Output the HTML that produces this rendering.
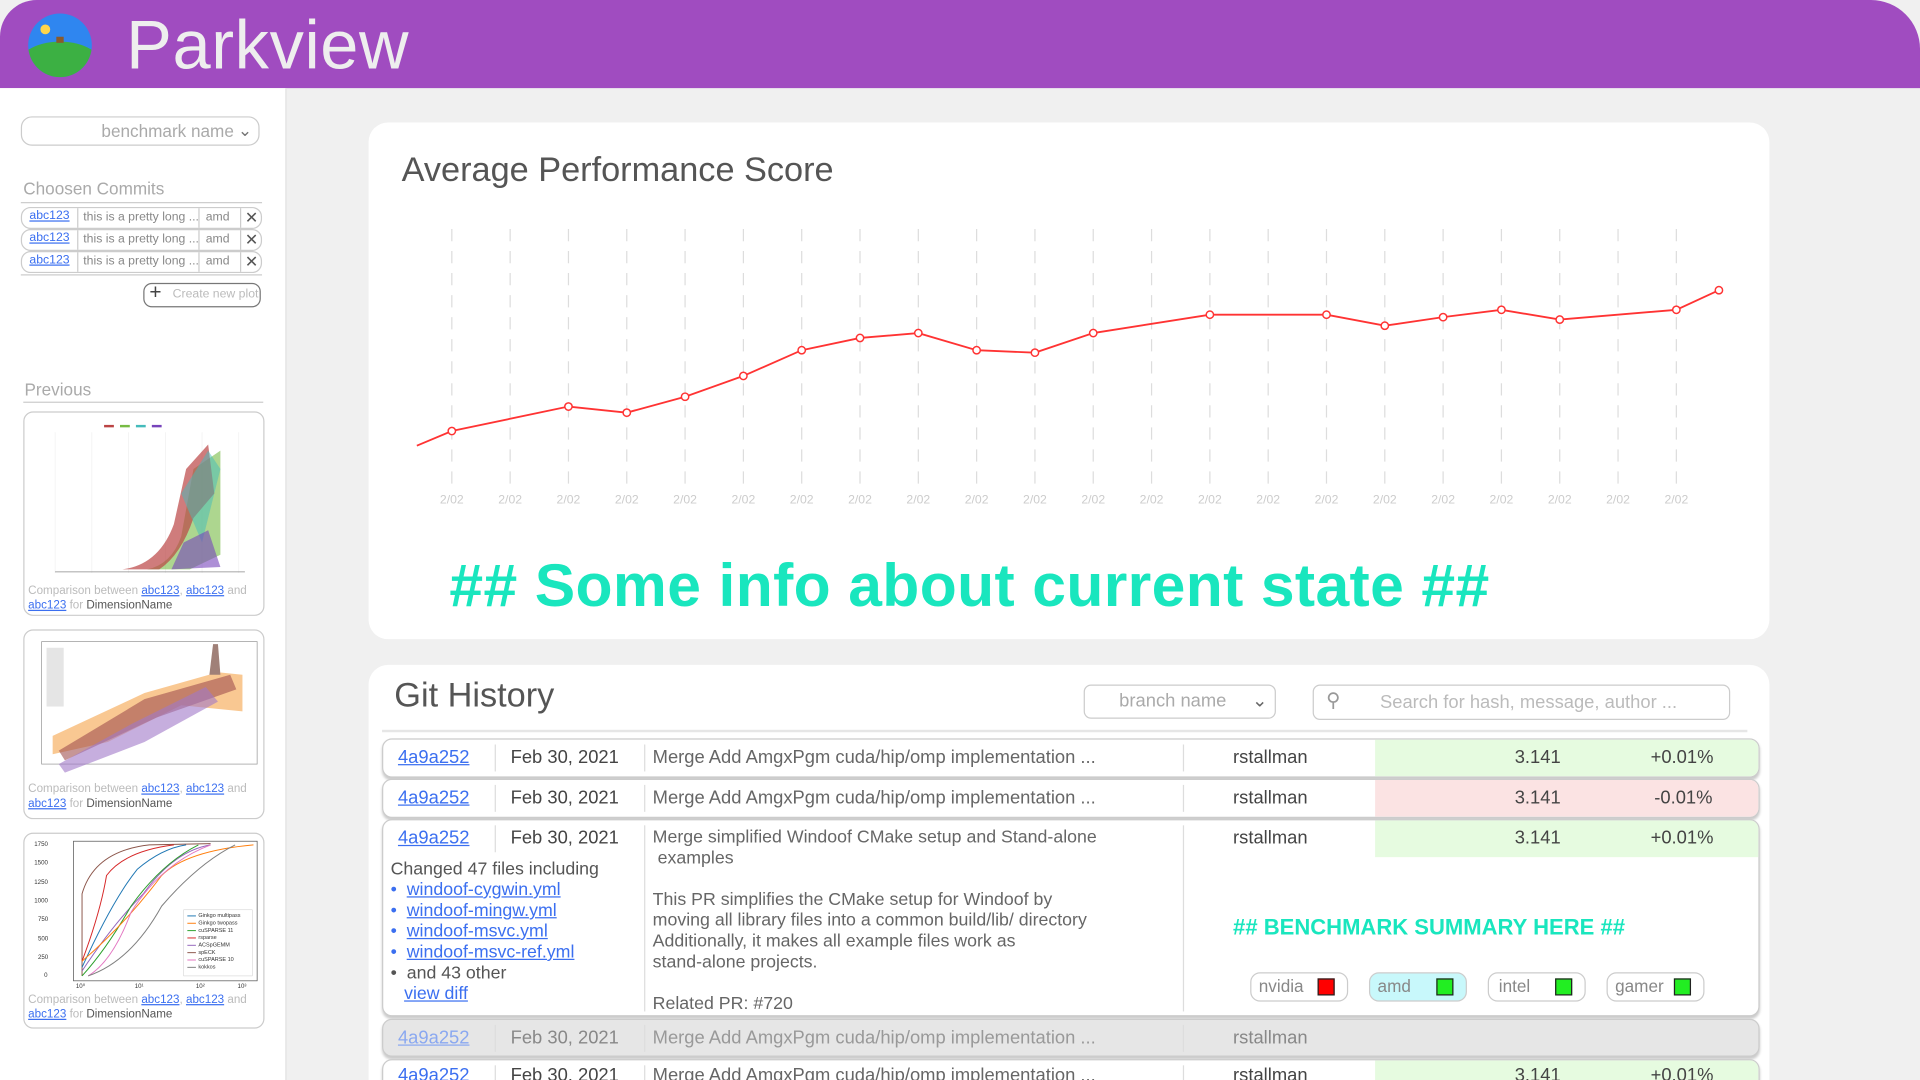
<!DOCTYPE html>
<html><head><meta charset="utf-8">
<style>
html,body{margin:0;padding:0;width:1920px;height:1080px;overflow:hidden;background:#f0f0f0;}
#wrap{position:absolute;left:0;top:0;width:1568px;height:882px;transform:scale(1.22449);transform-origin:0 0;font-family:"Liberation Sans",sans-serif;background:#f0f0f0;overflow:hidden;}
.abs{position:absolute;}
a,.lnk{color:#3b6ff0;text-decoration:underline;}
.card{position:absolute;background:#fff;border-radius:16px;}
.row{position:absolute;left:312px;width:1123px;background:#fff;border:1px solid #ccc;border-radius:8px;box-shadow:0 2px 2px #ccc;overflow:hidden;font-size:15px;color:#444;}
.cell{position:absolute;top:0;height:100%;}
.sep{position:absolute;top:4px;width:1px;background:#ddd;}
.chip{position:absolute;height:22px;border:1px solid #ccc;border-radius:8px;font-size:14px;color:#888;}
.chip i{position:absolute;right:10px;top:4px;width:12px;height:12px;border:1px solid #222;}
.cc{position:absolute;left:17px;width:195px;height:16px;border:1px solid #ccc;border-radius:8px;font-size:10px;color:#888;}
.tc{position:absolute;left:19px;width:195px;background:#fff;border:1px solid #ccc;border-radius:8px;}
.tcap{position:absolute;left:3px;font-size:9.5px;color:#bbb;line-height:12px;}
.tcap b{font-weight:normal;color:#555;}
</style></head><body>
<div id="wrap">
<div class="abs" style="left:0;top:0;width:1568px;height:72px;background:#a04cc0;border-top-right-radius:40px;border-top-left-radius:30px;"></div>
<svg class="abs" style="left:22px;top:10px" width="54" height="54" viewBox="0 0 54 54">
<defs><clipPath id="lc"><circle cx="27" cy="27" r="26"/></clipPath></defs>
<circle cx="27" cy="27" r="26" fill="#2f86f0"/>
<g clip-path="url(#lc)"><ellipse cx="27" cy="46" rx="36" ry="22" fill="#3cb043"/></g>
<circle cx="15" cy="14" r="4" fill="#ffd54a"/><rect x="24" y="20" width="6" height="5" fill="#8a5a2b"/>
</svg>
<div class="abs" style="left:103px;top:4px;font-size:56px;color:#eee;font-weight:300;letter-spacing:0.5px">Parkview</div>

<div class="abs" style="left:0;top:72px;width:233px;height:810px;background:#fff;border-right:1px solid #e0e0e0"></div>
<div class="abs" style="left:17px;top:95px;width:193px;height:22px;border:1px solid #ccc;border-radius:9px;font-size:14px;color:#aaa;text-align:right;line-height:22px;padding-right:0"><span style="margin-right:20px">benchmark name</span><span class="abs" style="right:5px;top:-1px;color:#777">⌄</span></div>
<div class="abs" style="left:19px;top:146px;font-size:14px;color:#aaa">Choosen Commits</div>
<div class="abs" style="left:17px;top:165px;width:197px;height:1px;background:#ccc"></div>
<div class="cc" style="top:169px"><span class="abs lnk" style="left:6px;top:1px">abc123</span><span class="abs" style="left:45px;top:0;height:16px;border-left:1px solid #ccc;padding-left:4px;line-height:16px">this is a pretty long ...</span><span class="abs" style="left:144px;height:16px;border-left:1px solid #ccc;padding-left:5px;line-height:16px;width:30px">amd</span><span class="abs" style="left:178px;height:16px;border-left:1px solid #ccc;padding-left:3px;line-height:16px;font-size:13px;color:#555">✕</span></div>
<div class="cc" style="top:187px"><span class="abs lnk" style="left:6px;top:1px">abc123</span><span class="abs" style="left:45px;top:0;height:16px;border-left:1px solid #ccc;padding-left:4px;line-height:16px">this is a pretty long ...</span><span class="abs" style="left:144px;height:16px;border-left:1px solid #ccc;padding-left:5px;line-height:16px;width:30px">amd</span><span class="abs" style="left:178px;height:16px;border-left:1px solid #ccc;padding-left:3px;line-height:16px;font-size:13px;color:#555">✕</span></div>
<div class="cc" style="top:205px"><span class="abs lnk" style="left:6px;top:1px">abc123</span><span class="abs" style="left:45px;top:0;height:16px;border-left:1px solid #ccc;padding-left:4px;line-height:16px">this is a pretty long ...</span><span class="abs" style="left:144px;height:16px;border-left:1px solid #ccc;padding-left:5px;line-height:16px;width:30px">amd</span><span class="abs" style="left:178px;height:16px;border-left:1px solid #ccc;padding-left:3px;line-height:16px;font-size:13px;color:#555">✕</span></div>
<div class="abs" style="left:17px;top:224px;width:197px;height:1px;background:#ccc"></div>
<div class="abs" style="left:117px;top:231px;width:94px;height:18px;border:1px solid #777;border-radius:7px;font-size:10px;color:#bbb;line-height:18px"><span style="position:absolute;left:4px;top:-2px;font-size:17px;color:#444">+</span><span style="position:absolute;left:23px">Create new plot</span></div>
<div class="abs" style="left:20px;top:310px;font-size:14px;color:#aaa">Previous</div>
<div class="abs" style="left:19px;top:328px;width:196px;height:1px;background:#ccc"></div>

<div class="tc" style="top:336px;height:165px">
<svg class="abs" style="left:10px;top:6px" width="180" height="134" viewBox="0 0 180 134">
<g stroke="#eee" stroke-width="0.5"><line x1="15" y1="10" x2="15" y2="125"/><line x1="45" y1="10" x2="45" y2="125"/><line x1="75" y1="10" x2="75" y2="125"/><line x1="105" y1="10" x2="105" y2="125"/><line x1="135" y1="10" x2="135" y2="125"/><line x1="165" y1="10" x2="165" y2="125"/></g>
<rect x="55" y="4" width="8" height="2" fill="#b44"/><rect x="68" y="4" width="8" height="2" fill="#7b4"/><rect x="81" y="4" width="8" height="2" fill="#4bb"/><rect x="94" y="4" width="8" height="2" fill="#74b"/>
<path d="M15 122 L90 122 Q110 118 118 95 L128 40 L150 25 L150 110 L125 122 Z" fill="#7b4" opacity="0.6"/>
<path d="M70 122 Q100 118 112 85 L122 40 L140 20 L145 60 L128 80 Q118 110 100 122Z" fill="#b44" opacity="0.7"/>
<path d="M118 60 L140 25 L150 40 L135 100Z" fill="#4bb" opacity="0.5"/>
<path d="M110 122 L120 100 L140 90 L150 120Z" fill="#74b" opacity="0.6"/>
<line x1="15" y1="124" x2="170" y2="124" stroke="#888" stroke-width="0.6"/>
</svg>
<div class="tcap" style="top:140px">Comparison between <span class="lnk">abc123</span>, <span class="lnk">abc123</span> and<br><span class="lnk">abc123</span> for <b>DimensionName</b></div></div>

<div class="tc" style="top:514px;height:153px">
<svg class="abs" style="left:8px;top:6px" width="184" height="114" viewBox="0 0 184 114">
<rect x="6" y="3" width="176" height="100" fill="#fff" stroke="#999" stroke-width="0.6"/>
<path d="M15 80 L90 45 L150 28 L170 30 L170 60 L120 55 L60 85 L15 95Z" fill="#f5a34a" opacity="0.6"/>
<path d="M20 92 L90 50 L160 30 L165 42 L100 65 L25 100Z" fill="#a05050" opacity="0.6"/>
<path d="M20 103 L80 70 L140 40 L150 52 L90 85 L25 110Z" fill="#a078c8" opacity="0.6"/>
<path d="M143 30 L146 5 L150 5 L152 30Z" fill="#a08078"/>
<g fill="#aaa"><rect x="10" y="8" width="14" height="48" opacity="0.3"/></g>
</svg>
<div class="tcap" style="top:124px">Comparison between <span class="lnk">abc123</span>, <span class="lnk">abc123</span> and<br><span class="lnk">abc123</span> for <b>DimensionName</b></div></div>

<div class="tc" style="top:680px;height:158px">
<svg class="abs" style="left:2px;top:4px" width="190" height="128" viewBox="0 0 190 128" font-size="5" font-family="Liberation Sans" fill="#333">
<rect x="38" y="2" width="150" height="114" fill="none" stroke="#555" stroke-width="0.6"/>
<text x="6" y="6">1750</text><text x="6" y="21">1500</text><text x="6" y="37">1250</text><text x="6" y="52">1000</text><text x="9" y="67">750</text><text x="9" y="83">500</text><text x="9" y="98">250</text><text x="14" y="113">0</text>
<g fill="none" stroke-width="0.8">
<path d="M45 112 L45 45 Q55 10 100 5 L150 4" stroke="#8c564b"/>
<path d="M45 100 Q60 60 65 30 Q80 10 120 5" stroke="#d62728"/>
<path d="M45 105 Q70 50 90 25 Q110 8 130 5" stroke="#1f77b4"/>
<path d="M45 108 Q70 70 95 45 Q120 10 150 5" stroke="#9467bd"/>
<path d="M45 112 Q65 90 85 55 Q110 20 140 5" stroke="#2ca02c"/>
<path d="M45 100 Q80 70 110 30 Q130 10 185 5" stroke="#ff7f0e"/>
<path d="M50 112 Q70 100 85 60 Q110 20 150 5" stroke="#e377c2"/>
<path d="M50 112 Q85 100 110 55 Q140 20 170 5" stroke="#7f7f7f"/>
</g>
<rect x="128" y="58" width="56" height="54" fill="#fff" stroke="#ccc" stroke-width="0.4"/>
<g font-size="4.5"><text x="140" y="64">Ginkgo multipass</text><text x="140" y="70">Ginkgo twopass</text><text x="140" y="76">cuSPARSE 11</text><text x="140" y="82">rsparse</text><text x="140" y="88">ACSpGEMM</text><text x="140" y="94">spECK</text><text x="140" y="100">cuSPARSE 10</text><text x="140" y="106">kokkos</text></g>
<g stroke-width="0.8"><line x1="131" y1="63" x2="138" y2="63" stroke="#1f77b4"/><line x1="131" y1="69" x2="138" y2="69" stroke="#ff7f0e"/><line x1="131" y1="75" x2="138" y2="75" stroke="#2ca02c"/><line x1="131" y1="81" x2="138" y2="81" stroke="#d62728"/><line x1="131" y1="87" x2="138" y2="87" stroke="#9467bd"/><line x1="131" y1="93" x2="138" y2="93" stroke="#8c564b"/><line x1="131" y1="99" x2="138" y2="99" stroke="#e377c2"/><line x1="131" y1="105" x2="138" y2="105" stroke="#7f7f7f"/></g>
<text x="40" y="122">10⁰</text><text x="88" y="122">10¹</text><text x="138" y="122">10²</text><text x="172" y="122">10³</text>
</svg>
<div class="tcap" style="top:130px">Comparison between <span class="lnk">abc123</span>, <span class="lnk">abc123</span> and<br><span class="lnk">abc123</span> for <b>DimensionName</b></div></div>

<div class="card" style="left:301px;top:100px;width:1144px;height:422px"></div>
<div class="abs" style="left:328px;top:123px;font-size:28px;color:#555;font-weight:300">Average Performance Score</div>
<svg id="chart" class="abs" style="left:0;top:0" width="1568" height="520"></svg>
<div class="abs" style="left:367px;top:450px;font-size:49.5px;font-weight:bold;color:#19e6be;letter-spacing:0.3px">## Some info about current state ##</div>

<div class="card" style="left:301px;top:543px;width:1144px;height:360px"></div>
<div class="abs" style="left:322px;top:552px;font-size:28px;color:#555;font-weight:300">Git History</div>
<div class="abs" style="left:885px;top:559px;width:155px;height:26px;border:1px solid #ccc;border-radius:6px;font-size:15px;color:#aaa;line-height:26px"><span style="margin-left:28px">branch name</span><span class="abs" style="right:6px;top:0;color:#666">⌄</span></div>
<div class="abs" style="left:1072px;top:559px;width:339px;height:27px;border:1px solid #ccc;border-radius:6px;font-size:15px;color:#bbb;line-height:28px"><span class="abs" style="left:10px;top:-1px;color:#999;font-size:16px">⚲</span><span style="margin-left:54px">Search for hash, message, author ...</span></div>
<div class="abs" style="left:312px;top:596px;width:1115px;height:2px;background:#e6e6e6"></div>

<div class="row" style="top:603px;height:30px">
<span class="cell lnk" style="left:12px;line-height:30px">4a9a252</span><div class="sep" style="left:91px;height:22px"></div>
<span class="cell" style="left:104px;line-height:30px">Feb 30, 2021</span><div class="sep" style="left:213px;height:22px"></div>
<span class="cell" style="left:220px;line-height:30px;color:#666">Merge Add AmgxPgm cuda/hip/omp implementation ...</span><div class="sep" style="left:653px;height:22px"></div>
<span class="cell" style="left:694px;line-height:30px">rstallman</span>
<div class="cell" style="left:810px;width:313px;background:#e6fbe0"><span class="abs" style="left:114px;line-height:30px">3.141</span><span class="abs" style="left:225px;line-height:30px">+0.01%</span></div></div>

<div class="row" style="top:636px;height:30px">
<span class="cell lnk" style="left:12px;line-height:30px">4a9a252</span><div class="sep" style="left:91px;height:22px"></div>
<span class="cell" style="left:104px;line-height:30px">Feb 30, 2021</span><div class="sep" style="left:213px;height:22px"></div>
<span class="cell" style="left:220px;line-height:30px;color:#666">Merge Add AmgxPgm cuda/hip/omp implementation ...</span><div class="sep" style="left:653px;height:22px"></div>
<span class="cell" style="left:694px;line-height:30px">rstallman</span>
<div class="cell" style="left:810px;width:313px;background:#fbe3e3"><span class="abs" style="left:114px;line-height:30px">3.141</span><span class="abs" style="left:228px;line-height:30px">-0.01%</span></div></div>

<div class="row" style="top:669px;height:159px">
<span class="cell lnk" style="left:12px;line-height:30px;height:30px">4a9a252</span><div class="sep" style="left:91px;height:22px"></div>
<span class="cell" style="left:104px;line-height:30px;height:30px">Feb 30, 2021</span><div class="sep" style="left:213px;height:152px"></div>
<div class="abs" style="left:6px;top:32px;font-size:14.5px;line-height:17px;color:#555">Changed 47 files including<br>
<span style="color:#3b6ff0">•</span>&nbsp; <span class="lnk">windoof-cygwin.yml</span><br>
<span style="color:#3b6ff0">•</span>&nbsp; <span class="lnk">windoof-mingw.yml</span><br>
<span style="color:#3b6ff0">•</span>&nbsp; <span class="lnk">windoof-msvc.yml</span><br>
<span style="color:#3b6ff0">•</span>&nbsp; <span class="lnk">windoof-msvc-ref.yml</span><br>
•&nbsp; and 43 other<br>
<span class="lnk" style="margin-left:11px">view diff</span></div>
<div class="abs" style="left:220px;top:6px;font-size:14.5px;line-height:17px;color:#666">Merge simplified Windoof CMake setup and Stand-alone<br>&nbsp;examples<br><br>This PR simplifies the CMake setup for Windoof by<br>moving all library files into a common build/lib/ directory<br>Additionally, it makes all example files work as<br>stand-alone projects.<br><br>Related PR: #720</div>
<div class="sep" style="left:653px;height:152px"></div>
<span class="cell" style="left:694px;line-height:30px;height:30px">rstallman</span>
<div class="cell" style="left:810px;width:313px;height:30px;background:#e6fbe0"><span class="abs" style="left:114px;line-height:30px">3.141</span><span class="abs" style="left:225px;line-height:30px">+0.01%</span></div>
<div class="abs" style="left:694px;top:77px;font-size:18px;font-weight:bold;color:#19e6be">## BENCHMARK SUMMARY HERE ##</div>
<div class="chip" style="left:708px;top:124px;width:78px"><span class="abs" style="left:6px;top:2px">nvidia</span><i style="background:#f00"></i></div>
<div class="chip" style="left:805px;top:124px;width:78px;background:#c8f8fb"><span class="abs" style="left:6px;top:2px">amd</span><i style="background:#2e2"></i></div>
<div class="chip" style="left:902px;top:124px;width:78px"><span class="abs" style="left:8px;top:2px">intel</span><i style="background:#2e2"></i></div>
<div class="chip" style="left:999px;top:124px;width:78px"><span class="abs" style="left:6px;top:2px">gamer</span><i style="background:#2e2"></i></div>
</div>

<div class="row" style="top:832px;height:29px;background:#e6e6e6;color:#888">
<span class="cell lnk" style="left:12px;line-height:29px;color:#8aa8f0">4a9a252</span><div class="sep" style="left:91px;height:22px"></div>
<span class="cell" style="left:104px;line-height:29px">Feb 30, 2021</span><div class="sep" style="left:213px;height:22px"></div>
<span class="cell" style="left:220px;line-height:29px;color:#999">Merge Add AmgxPgm cuda/hip/omp implementation ...</span><div class="sep" style="left:653px;height:22px"></div>
<span class="cell" style="left:694px;line-height:29px">rstallman</span></div>

<div class="row" style="top:865px;height:30px">
<span class="cell lnk" style="left:12px;line-height:26px">4a9a252</span><div class="sep" style="left:91px;height:22px"></div>
<span class="cell" style="left:104px;line-height:26px">Feb 30, 2021</span><div class="sep" style="left:213px;height:22px"></div>
<span class="cell" style="left:220px;line-height:26px;color:#666">Merge Add AmgxPgm cuda/hip/omp implementation ...</span><div class="sep" style="left:653px;height:22px"></div>
<span class="cell" style="left:694px;line-height:26px">rstallman</span>
<div class="cell" style="left:810px;width:313px;background:#e6fbe0"><span class="abs" style="left:114px;line-height:26px">3.141</span><span class="abs" style="left:225px;line-height:26px">+0.01%</span></div></div>
</div>

<script>
const tickLabels = ["2/02","2/02","2/02","2/02","2/02","2/02","2/02","2/02","2/02","2/02","2/02","2/02","2/02","2/02","2/02","2/02","2/02","2/02","2/02","2/02","2/02","2/02"];
const pointIndex = [-0.6,0,2,3,4,5,6,7,8,9,10,11,13,15,16,17,18,19,21,21.73];
const scoreValues = [36,48,68,63,76,93,114,124,128,114,112,128,143,143,134,141,147,139,147,163];
const showMarker = [false,true,true,true,true,true,true,true,true,true,true,true,true,true,true,true,true,true,true,true];

const NS = "http://www.w3.org/2000/svg";
const svg = document.getElementById('chart');
function xScale(i){ return 369 + i * 47.62; }
function yScale(v){ return 400 - v; }
function mk(tag, attrs){ const e = document.createElementNS(NS, tag); for (const k in attrs) e.setAttribute(k, attrs[k]); svg.appendChild(e); return e; }

tickLabels.forEach((t, i) => {
  const g = mk('line', {x1:xScale(i), x2:xScale(i), y1:187, y2:397, stroke:'#ddd', 'stroke-width':1, 'stroke-dasharray':'10 8'});
  
  
  const tx = mk('text', {x:xScale(i), y:411, 'text-anchor':'middle', 'font-size':10, fill:'#ccc', 'font-family':'Liberation Sans, sans-serif'});
  tx.textContent = t;
  
  
});

const pts = pointIndex.map((p, i) => xScale(p) + ',' + yScale(scoreValues[i])).join(' ');
const line = mk('polyline', {points:pts, fill:'none', stroke:'#f33', 'stroke-width':1.5});



pointIndex.forEach((p, i) => {
  if (!showMarker[i]) return;
  const c = mk('circle', {cx:xScale(p), cy:yScale(scoreValues[i]), r:3, fill:'#fff', stroke:'#f33', 'stroke-width':1.2});
  
  
});
</script>
</body></html>
